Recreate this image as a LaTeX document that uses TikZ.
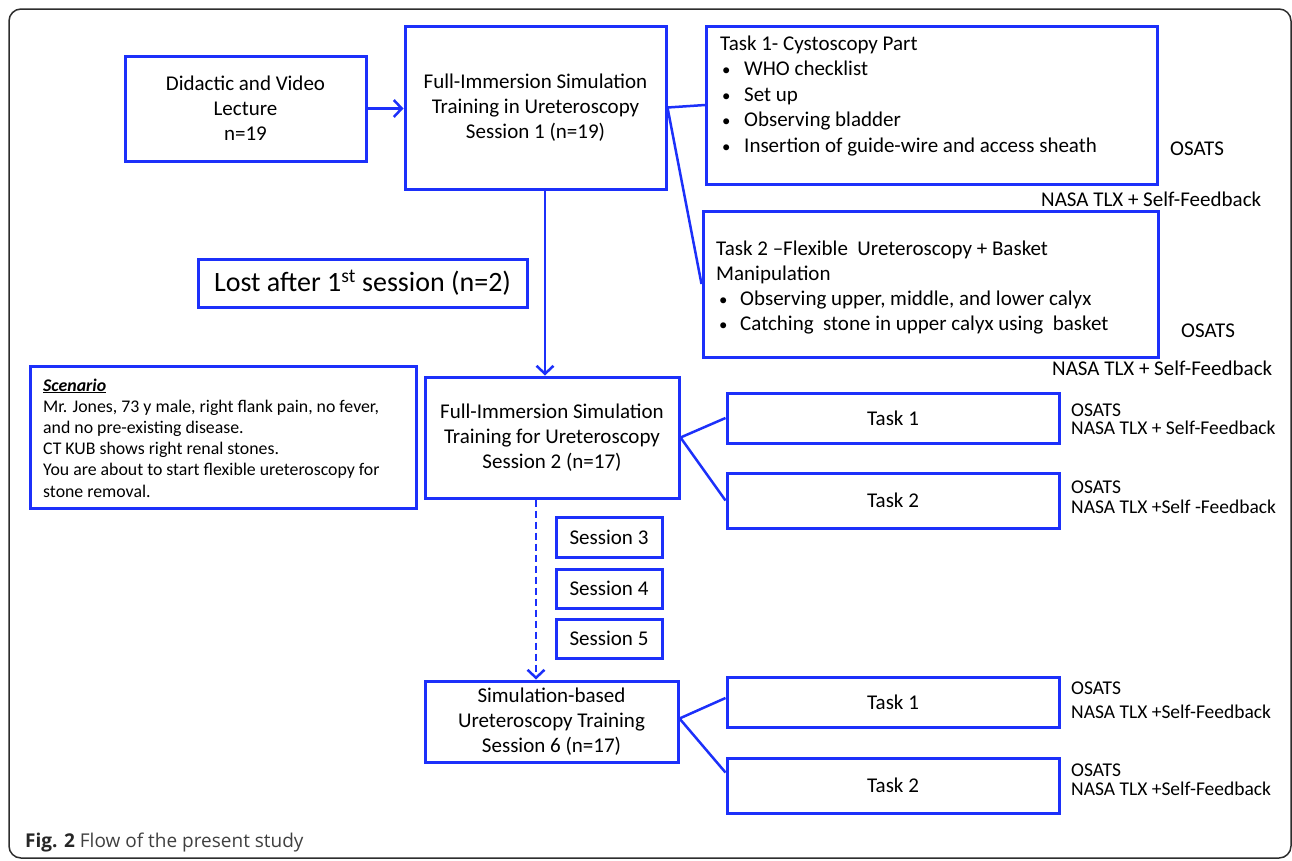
\documentclass[tikz,border=0pt]{standalone}
\usepackage{fontspec}
\setmainfont{Carlito}
\newfontfamily\capfont{Open Sans}
\usetikzlibrary{arrows.meta}
\definecolor{bblue}{RGB}{28,48,250}
\definecolor{framegray}{RGB}{45,45,45}
\newcommand{\tbul}{\makebox[24pt][l]{\hspace{2pt}\scalebox{0.8}{•}}}
\newcommand{\tbulb}{\makebox[24pt][l]{\hspace{3pt}\scalebox{0.8}{•}}}
\begin{document}
\begin{tikzpicture}[x=1pt,y=-1pt,
  box/.style={draw=bblue, line width=3pt, inner sep=0pt, align=center, font=\fontsize{21}{25}\selectfont},
  conn/.style={draw=bblue, line width=2.5pt},
  arr/.style={conn, -{Straight Barb[length=8pt,width=17pt]}},
  dasharr/.style={arr, dash pattern=on 7pt off 4pt},
  lab/.style={anchor=base west, inner sep=0pt, font=\fontsize{21}{25}\selectfont},
  slab/.style={anchor=base west, inner sep=0pt, font=\fontsize{19.5}{20}\selectfont}]
\useasboundingbox (0,0) rectangle (1292,860);
\fill[white] (0,0) rectangle (1292,860);
\draw[framegray, line width=1.5pt, rounded corners=12pt] (9,9) rectangle (1291,858);

% main column
\node[box, minimum width=241pt, minimum height=105pt] (did) at (245.5,108.5) {Didactic and Video\\Lecture\\n=19};
\node[box, minimum width=261pt, minimum height=163pt] (s1) at (535.5,107.5) {Full-Immersion Simulation\\Training in Ureteroscopy\\Session 1 (n=19)};
\node[box, minimum width=329pt, minimum height=48pt, font=\fontsize{28}{30}\selectfont] (lost) at (362.5,283) {Lost after 1\textsuperscript{st} session (n=2)};
\node[box, minimum width=386pt, minimum height=142pt] (scen) at (223,437) {};
\node[box, minimum width=254pt, minimum height=121pt] (s2) at (552,437.5) {Full-Immersion Simulation\\Training for Ureteroscopy\\Session 2 (n=17)};
\node[box, minimum width=106pt, minimum height=40pt] (ses3) at (609,537) {Session 3};
\node[box, minimum width=106pt, minimum height=39pt] (ses4) at (609,588.5) {Session 4};
\node[box, minimum width=106pt, minimum height=39pt] (ses5) at (609,638.5) {Session 5};
\node[box, minimum width=253pt, minimum height=81pt] (s6) at (551.5,721.5) {Simulation-based\\Ureteroscopy Training\\Session 6 (n=17)};

% task boxes
\node[box, minimum width=451pt, minimum height=158pt] (t1a) at (932,105) {};
\node[box, minimum width=455pt, minimum height=146pt] (t2a) at (930.5,284) {};
\node[box, minimum width=332pt, minimum height=50pt] (t1b) at (893,418) {Task 1};
\node[box, minimum width=332pt, minimum height=55pt] (t2b) at (893,500.5) {Task 2};
\node[box, minimum width=332pt, minimum height=50pt] (t1c) at (893,702) {Task 1};
\node[box, minimum width=332pt, minimum height=55pt] (t2c) at (893,785.5) {Task 2};

% texts in big boxes
\node[anchor=base west, inner sep=0pt] (t1atext) at (720,50) {\begin{minipage}[t]{430pt}\fontsize{21}{25.5}\selectfont\raggedright
Task 1- Cystoscopy Part\\
\tbul WHO checklist\\
\tbul Set up\\
\tbul Observing bladder\\
\tbul Insertion of guide-wire and access sheath\end{minipage}};
\node[anchor=base west, inner sep=0pt] (t2atext) at (716,255) {\begin{minipage}[t]{430pt}\fontsize{21}{25.3}\selectfont\raggedright
Task 2 –Flexible~ Ureteroscopy + Basket\\
Manipulation\\
\tbulb Observing upper, middle, and lower calyx\\
\tbulb Catching~ stone in upper calyx using~ basket\end{minipage}};
\node[anchor=base west, inner sep=0pt] (scentext) at (43,391) {\begin{minipage}[t]{370pt}\fontsize{17.8}{21.2}\selectfont\raggedright
\underline{\textbf{\textit{Scenario}}}\\
Mr. Jones, 73 y male, right flank pain, no fever,\\
and no pre-existing disease.\\
CT KUB shows right renal stones.\\
You are about to start flexible ureteroscopy for\\
stone removal.\end{minipage}};

% side labels
\node[lab] (o1) at (1170,155) {OSATS};
\node[lab] (n1) at (1041,206) {NASA TLX + Self-Feedback};
\node[lab] (o2) at (1181,337) {OSATS};
\node[lab] (n2) at (1052,375) {NASA TLX + Self-Feedback};
\node[slab] (o3) at (1071,416) {OSATS};
\node[slab] (n3) at (1071,434) {NASA TLX + Self-Feedback};
\node[slab] (o4) at (1071,493) {OSATS};
\node[slab] (n4) at (1071,513) {NASA TLX +Self -Feedback};
\node[slab] (o5) at (1071,694) {OSATS};
\node[slab] (n5) at (1071,718) {NASA TLX +Self-Feedback};
\node[slab] (o6) at (1071,776) {OSATS};
\node[slab] (n6) at (1071,795) {NASA TLX +Self-Feedback};

% caption
\node[anchor=base west, inner sep=0pt, font=\capfont\fontsize{19}{22}\selectfont, text=black!75] (cap) at (25,847) {\textbf{\color{black!85}Fig. 2} Flow of the present study};

% connectors
\draw[arr] (did.east) -- (s1.west |- did.east);
\draw[conn] (s1.east) -- (t1a.west);
\draw[conn] (s1.east) -- (t2a.west);
\draw[arr] ([xshift=9.5pt]s1.south) -- ([xshift=9.5pt]s1.south |- s2.north);
\draw[dasharr] ([xshift=-16pt]s2.south) -- ([xshift=-16pt]s2.south |- s6.north);
\draw[conn] (s2.east) -- (t1b.west);
\draw[conn] (s2.east) -- (t2b.west);
\draw[conn] ([yshift=3pt]s6.east) -- ([yshift=4pt]t1c.west);
\draw[conn] ([yshift=3pt]s6.east) -- ([yshift=13pt]t2c.west);
\end{tikzpicture}
\end{document}
